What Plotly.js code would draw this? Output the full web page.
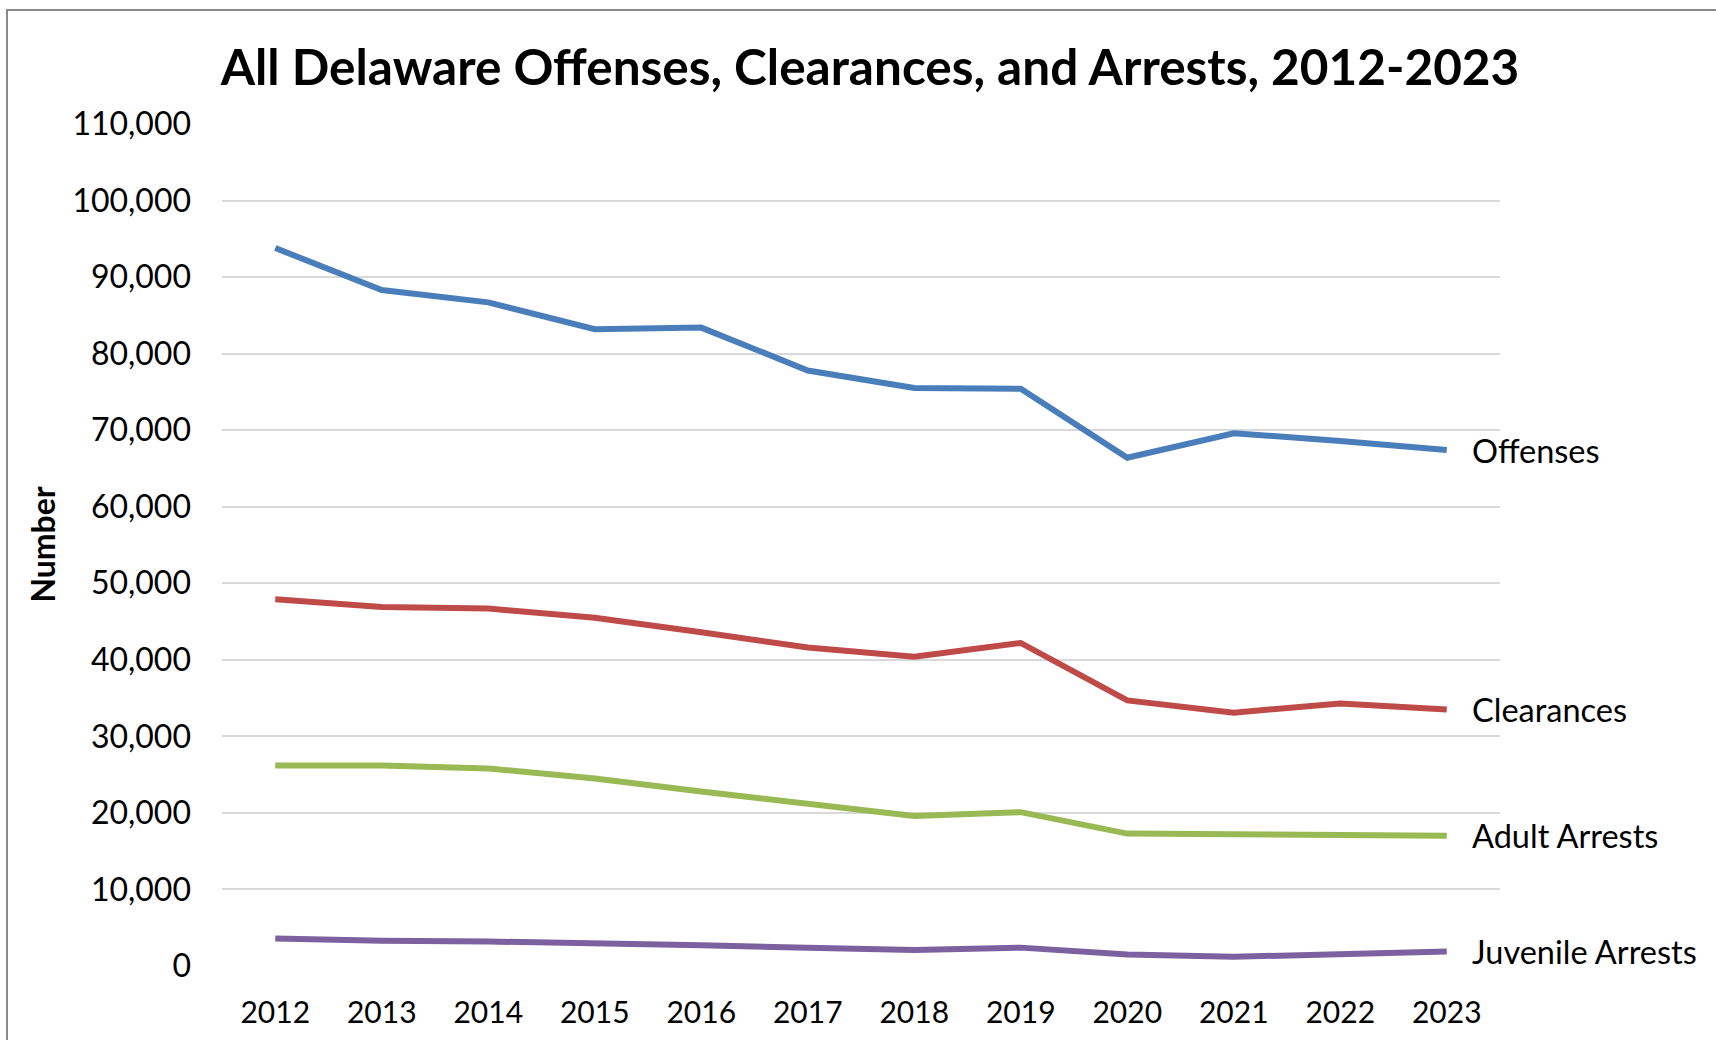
<!DOCTYPE html>
<html>
<head>
<meta charset="utf-8">
<script src="https://cdn.plot.ly/plotly-3.0.1.min.js"></script>
<style>
  html, body { margin: 0; padding: 0; background: #ffffff; }
  #chart { width: 1716px; height: 1040px; }
</style>
</head>
<body>
<div id="chart"></div>
<script>
// ---- data ----
const years = ['2012','2013','2014','2015','2016','2017','2018','2019','2020','2021','2022','2023'];
const offenses   = [93800, 88300, 86700, 83200, 83400, 77800, 75500, 75400, 66400, 69600, 68600, 67400];
const clearances = [47900, 46900, 46700, 45500, 43600, 41600, 40400, 42200, 34700, 33100, 34300, 33500];
const adultArrests    = [26200, 26200, 25800, 24500, 22800, 21200, 19600, 20100, 17300, 17200, 17100, 17000];
const juvenileArrests = [3600, 3300, 3200, 3000, 2700, 2400, 2100, 2400, 1500, 1200, 1500, 1900];
const seriesNames = ['Offenses', 'Clearances', 'Adult Arrests', 'Juvenile Arrests'];
const yTicks = [0, 10000, 20000, 30000, 40000, 50000, 60000, 70000, 80000, 90000, 100000, 110000];

const seriesValues = [offenses, clearances, adultArrests, juvenileArrests];
const colors = ['#4A7EBB', '#BE4B48', '#98B954', '#7D60A0'];
const FONT = 'Lato, "Open Sans", sans-serif';

const traces = seriesValues.map((vals, i) => ({
  type: 'scatter',
  mode: 'lines',
  x: years,
  y: vals,
  name: seriesNames[i],
  line: { color: colors[i], width: 6 },
  hoverinfo: 'x+y+name'
}));

// label at the last point of each series (category index of the last year)
const lastIdx = years.length - 1;
const labelAnnotations = seriesValues.map((vals, i) => ({
  xref: 'x', yref: 'y',
  x: lastIdx,
  y: vals[vals.length - 1],
  text: seriesNames[i],
  showarrow: false,
  xanchor: 'left', yanchor: 'middle',
  xshift: 23,
  font: { family: FONT, size: 32.5, color: '#000000' }
}));

const layout = {
  width: 1716, height: 1040,
  paper_bgcolor: '#ffffff', plot_bgcolor: '#ffffff',
  margin: { l: 222, r: 216, t: 124, b: 74, pad: 0 },
  showlegend: false,
  title: {
    text: '<b>All Delaware Offenses, Clearances, and Arrests, 2012-2023</b>',
    font: { family: FONT, size: 49.5, color: '#000000' },
    x: 0.507, xref: 'container', xanchor: 'center',
    y: 1 - 68 / 1040, yref: 'container', yanchor: 'middle'
  },
  xaxis: {
    type: 'category',
    range: [-0.5, 11.5],
    showgrid: false, zeroline: false, showline: false,
    ticks: '',
    ticklabelstandoff: 26,
    tickfont: { family: FONT, size: 30, color: '#000000' }
  },
  yaxis: {
    range: [0, 110000],
    tickvals: yTicks,
    tickformat: ',d',
    showgrid: true, gridcolor: '#D9D9D9', gridwidth: 2,
    zeroline: false, showline: false,
    ticks: '',
    ticklabelstandoff: 30,
    tickfont: { family: FONT, size: 32, color: '#000000' }
  },
  annotations: labelAnnotations.concat([{
    xref: 'paper', yref: 'paper',
    x: (41.6 - 222) / 1278, y: 0.5,
    text: '<b>Number</b>',
    textangle: -90,
    showarrow: false,
    xanchor: 'center', yanchor: 'middle',
    font: { family: FONT, size: 32, color: '#000000' }
  }]),
  shapes: [{
    type: 'rect', xref: 'paper', yref: 'paper',
    x0: (7 - 222) / 1278, x1: 2,
    y0: -1, y1: (966 - 10) / 842,
    line: { color: '#8A8A8A', width: 2 },
    fillcolor: 'rgba(0,0,0,0)',
    layer: 'below'
  }]
};

Plotly.newPlot('chart', traces, layout, { displayModeBar: false, staticPlot: true });
</script>
</body>
</html>
